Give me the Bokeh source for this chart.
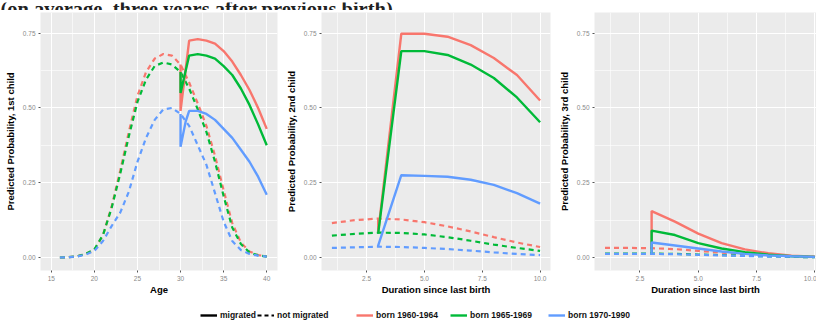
from bokeh.plotting import figure
from bokeh.models import (Range1d, FixedTicker, NumeralTickFormatter, Legend, LegendItem,
                          Label, ColumnDataSource)
from bokeh.layouts import column, row
from bokeh.embed import file_html
from bokeh.resources import INLINE

# ---------------- data ----------------
caption = "(on average, three years after previous birth)."
cohorts = ["born 1960-1964", "born 1965-1969", "born 1970-1990"]
colors = ["#F8766D", "#00BA38", "#619CFF"]

# Panel 1: first child, by age
age = [16, 17, 18, 19, 20, 21, 22, 23, 24, 25, 26, 27, 28, 29, 30,
       31, 32, 33, 34, 35, 36, 37, 38, 39, 40]
p1_nm_1960 = [0.000, 0.001, 0.004, 0.012, 0.025, 0.075, 0.170, 0.290, 0.420, 0.540, 0.620, 0.665, 0.680,
              0.675, 0.645, 0.585, 0.515, 0.440, 0.340, 0.225, 0.115, 0.050, 0.020, 0.008, 0.004]
p1_nm_1965 = [0.000, 0.001, 0.004, 0.012, 0.027, 0.075, 0.165, 0.280, 0.405, 0.520, 0.595, 0.640, 0.652,
              0.645, 0.620, 0.565, 0.495, 0.420, 0.320, 0.205, 0.100, 0.045, 0.017, 0.007, 0.003]
p1_nm_1970 = [0.000, 0.001, 0.003, 0.010, 0.022, 0.055, 0.105, 0.150, 0.220, 0.320, 0.400, 0.460, 0.495,
              0.500, 0.480, 0.440, 0.375, 0.310, 0.215, 0.120, 0.055, 0.025, 0.012, 0.006, 0.003]
p1_m_age = [30, 30, 31, 32, 33, 34, 35, 36, 37, 38, 39, 40]
p1_m_1960 = [0.645, 0.490, 0.725, 0.730, 0.725, 0.715, 0.690, 0.655, 0.610, 0.560, 0.500, 0.430]
p1_m_1965 = [0.620, 0.550, 0.675, 0.680, 0.675, 0.665, 0.640, 0.610, 0.565, 0.510, 0.445, 0.375]
p1_m_age_1970 = [30, 30, 30.6, 31, 32, 33, 34, 35, 36, 37, 38, 39, 40]
p1_m_1970 = [0.480, 0.370, 0.455, 0.490, 0.490, 0.480, 0.460, 0.430, 0.400, 0.360, 0.320, 0.270, 0.210]

# Panel 2: second child, by duration since last birth
dur = [1, 2, 3, 4, 5, 6, 7, 8, 9, 10]
p2_nm_1960 = [0.115, 0.125, 0.130, 0.127, 0.118, 0.104, 0.087, 0.068, 0.050, 0.035]
p2_nm_1965 = [0.073, 0.079, 0.083, 0.082, 0.077, 0.068, 0.056, 0.043, 0.032, 0.022]
p2_nm_1970 = [0.032, 0.034, 0.036, 0.035, 0.032, 0.028, 0.023, 0.017, 0.012, 0.008]
m_dur = [3, 3, 4, 5, 6, 7, 8, 9, 10]
p2_m_1960 = [0.130, 0.085, 0.748, 0.748, 0.738, 0.710, 0.667, 0.610, 0.525]
p2_m_1965 = [0.083, 0.080, 0.690, 0.690, 0.677, 0.645, 0.600, 0.535, 0.452]
p2_m_1970 = [0.036, 0.040, 0.275, 0.273, 0.270, 0.260, 0.243, 0.215, 0.180]

# Panel 3: third child, by duration since last birth
p3_nm_1960 = [0.032, 0.032, 0.031, 0.028, 0.022, 0.016, 0.011, 0.007, 0.004, 0.002]
p3_nm_1965 = [0.013, 0.013, 0.013, 0.012, 0.010, 0.008, 0.006, 0.004, 0.002, 0.001]
p3_nm_1970 = [0.012, 0.012, 0.012, 0.011, 0.009, 0.007, 0.005, 0.003, 0.002, 0.001]
p3_m_1960 = [0.031, 0.155, 0.120, 0.080, 0.048, 0.027, 0.014, 0.006, 0.003]
p3_m_1965 = [0.013, 0.090, 0.075, 0.048, 0.030, 0.018, 0.009, 0.004, 0.002]
p3_m_1970 = [0.012, 0.050, 0.040, 0.030, 0.020, 0.012, 0.007, 0.004, 0.002]

y_ticks = [0, 0.25, 0.5, 0.75]
y_minor = [0.125, 0.375, 0.625]
age_ticks = [15, 20, 25, 30, 35, 40]
age_minor = [17.5, 22.5, 27.5, 32.5, 37.5]
dur_ticks = [2.5, 5.0, 7.5, 10.0]
dur_minor = [1.25, 3.75, 6.25, 8.75]

FONT = "Liberation Sans"
DASH = "5 4"
LW_SOLID = 2.4
LW_DASH = 2.2


def make_panel(width, left, right, xr, xticks, xminor, xfmt, xlabel, ylabel):
    p = figure(width=width, height=288, x_range=xr, y_range=Range1d(-0.0435, 0.819),
               toolbar_location=None, output_backend="svg",
               min_border_left=left, min_border_right=right, min_border_top=2, min_border_bottom=28)
    p.background_fill_color = "#EBEBEB"
    p.border_fill_color = "white"
    p.outline_line_color = None
    p.xaxis.ticker = FixedTicker(ticks=xticks, minor_ticks=xminor)
    p.yaxis.ticker = FixedTicker(ticks=y_ticks, minor_ticks=y_minor)
    p.xaxis.formatter = NumeralTickFormatter(format=xfmt)
    p.yaxis.formatter = NumeralTickFormatter(format="0.00")
    for g in (p.xgrid, p.ygrid):
        g.grid_line_color = "white"
        g.grid_line_width = 1.1
        g.minor_grid_line_color = "white"
        g.minor_grid_line_width = 0.6
    for ax in (p.xaxis, p.yaxis):
        ax.axis_line_color = None
        ax.major_tick_line_color = "#555555"
        ax.major_tick_out = 2
        ax.major_tick_in = 0
        ax.minor_tick_line_color = None
        ax.major_label_text_font = FONT
        ax.major_label_text_font_size = "6.5px"
        ax.major_label_text_color = "#8a8a8a"
        ax.axis_label_text_font = FONT
        ax.axis_label_text_font_size = "9.5px"
        ax.axis_label_text_font_style = "bold"
        ax.axis_label_text_color = "black"
    p.xaxis.axis_label = xlabel
    p.yaxis.axis_label = ylabel
    p.xaxis.major_label_standoff = 1
    p.xaxis.axis_label_standoff = 0
    p.yaxis.major_label_standoff = 1
    p.yaxis.axis_label_standoff = 4
    return p


p1 = make_panel(282, 40, 5, Range1d(13.75, 41.25), age_ticks, age_minor, "0", "Age",
                "Predicted Probability, 1st child")
p2 = make_panel(273, 33, 5, Range1d(0.55, 10.45), dur_ticks, dur_minor, "0.0",
                "Duration since last birth", "Predicted Probability, 2nd child")
p3 = make_panel(261, 35, 0, Range1d(0.55, 10.07), dur_ticks, dur_minor, "0.0",
                "Duration since last birth", "Predicted Probability, 3rd child")

# panel 1
for ys, c in zip([p1_nm_1960, p1_nm_1965, p1_nm_1970], colors):
    p1.line(age, ys, line_color=c, line_width=LW_DASH, line_dash=DASH)
p1.line(p1_m_age, p1_m_1960, line_color=colors[0], line_width=LW_SOLID)
p1.line(p1_m_age, p1_m_1965, line_color=colors[1], line_width=LW_SOLID)
p1.line(p1_m_age_1970, p1_m_1970, line_color=colors[2], line_width=LW_SOLID)

# panel 2
for ys, c in zip([p2_nm_1960, p2_nm_1965, p2_nm_1970], colors):
    p2.line(dur, ys, line_color=c, line_width=LW_DASH, line_dash=DASH)
for ys, c in zip([p2_m_1960, p2_m_1965, p2_m_1970], colors):
    p2.line(m_dur, ys, line_color=c, line_width=LW_SOLID)

# panel 3
for ys, c in zip([p3_nm_1960, p3_nm_1965, p3_nm_1970], colors):
    p3.line(dur, ys, line_color=c, line_width=LW_DASH, line_dash=DASH)
for ys, c in zip([p3_m_1960, p3_m_1965, p3_m_1970], colors):
    p3.line(m_dur, ys, line_color=c, line_width=LW_SOLID)

# ---------------- caption strip (cut off at the top, as in the source) ----------------
cap = figure(width=816, height=10, toolbar_location=None, output_backend="svg",
             x_range=Range1d(0, 1), y_range=Range1d(0, 1),
             min_border_left=0, min_border_right=0, min_border_top=0, min_border_bottom=0)
cap.axis.visible = False
cap.grid.visible = False
cap.outline_line_color = None
cap.background_fill_color = "white"
cap.border_fill_color = "white"
cap.add_layout(Label(x=0, y=4, x_units="screen", y_units="screen", text=caption,
                     text_font="Liberation Serif", text_font_style="bold",
                     text_font_size="20.5px", text_baseline="alphabetic", text_color="#222222"))

# ---------------- legend strip ----------------
leg = figure(width=816, height=24, toolbar_location=None, output_backend="svg",
             x_range=Range1d(0, 1), y_range=Range1d(0, 1),
             min_border_left=0, min_border_right=0, min_border_top=0, min_border_bottom=0)
leg.axis.visible = False
leg.grid.visible = False
leg.outline_line_color = None
leg.background_fill_color = "white"
leg.border_fill_color = "white"

proxy = ColumnDataSource(data=dict(x=[float("nan")], y=[float("nan")]))
r_mig = leg.line("x", "y", source=proxy, line_color="black", line_width=LW_SOLID)
r_nmig = leg.line("x", "y", source=proxy, line_color="black", line_width=LW_DASH, line_dash="4 3")
r_cols = [leg.line("x", "y", source=proxy, line_color=c, line_width=LW_SOLID) for c in colors]

entries = [("migrated", r_mig, 200), ("not migrated", r_nmig, 257)]
entries += [(lab, r, xpos) for lab, r, xpos in zip(cohorts, r_cols, [356, 450, 548])]
for lab, r, xpos in entries:
    lg = Legend(items=[LegendItem(label=lab, renderers=[r])], location=(xpos, 1),
                orientation="horizontal", padding=0, margin=0, spacing=0,
                label_standoff=3, glyph_width=17, glyph_height=12, label_height=12,
                label_text_font=FONT, label_text_font_size="8.5px", label_text_font_style="bold",
                label_text_color="#111111", border_line_color=None, background_fill_alpha=0)
    leg.add_layout(lg)

layout = column(cap, row(p1, p2, p3), leg)
open("out.html", "w").write(file_html(layout, INLINE))
